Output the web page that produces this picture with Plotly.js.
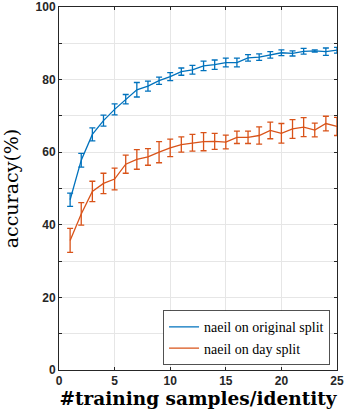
<!DOCTYPE html>
<html>
<head>
<meta charset="utf-8">
<script src="https://cdn.plot.ly/plotly-3.0.1.min.js"></script>
<style>
  html, body { margin: 0; padding: 0; background: #fff; }
  #plot { width: 344px; height: 415px; }
</style>
</head>
<body>
<div id="plot"></div>
<script>
// number of training samples per identity
let samples = [1, 2, 3, 4, 5, 6, 7, 8, 9, 10, 11, 12, 13, 14, 15, 16, 17, 18, 19, 20, 21, 22, 23, 24, 25];

// naeil on original split
let origAcc = [46.9, 57.8, 64.9, 68.7, 71.8, 74.6, 77.2, 78.2, 79.7, 80.8, 82.2, 82.7, 83.8, 84.1, 84.7, 84.7, 86.0, 86.2, 86.8, 87.4, 87.2, 87.8, 87.9, 87.7, 88.1];
let origErr = [1.8, 1.9, 1.8, 1.5, 1.5, 1.3, 2.0, 1.4, 1.0, 1.1, 1.0, 1.2, 1.3, 1.3, 1.2, 1.2, 0.9, 0.9, 0.9, 0.8, 0.7, 0.8, 0.3, 1.0, 0.8];

// naeil on day split
let dayAcc = [35.7, 43.0, 49.2, 51.4, 52.6, 56.7, 58.0, 58.7, 60.0, 61.2, 62.1, 62.6, 62.9, 63.0, 62.8, 64.1, 64.1, 64.6, 66.0, 65.2, 66.4, 66.9, 66.1, 67.9, 67.1];
let dayErr = [3.3, 3.1, 2.8, 2.8, 3.0, 2.5, 2.7, 2.3, 2.9, 2.4, 2.1, 2.3, 2.5, 2.2, 1.9, 1.7, 1.7, 2.4, 2.3, 2.7, 2.6, 2.6, 1.9, 2.0, 2.5];

let blue = "#0072BD";
let orange = "#D95319";
let serif = "'DejaVu Serif', serif";
let legendSerif = "'Liberation Serif', 'Times New Roman', serif";

let traceOrig = {
    x: samples,
    y: origAcc,
    type: "scatter",
    mode: "lines",
    name: "naeil on original split",
    line: { color: blue, width: 1.3 },
    error_y: { type: "data", array: origErr, visible: true, color: blue, thickness: 1.3, width: 3 }
};

let traceDay = {
    x: samples,
    y: dayAcc,
    type: "scatter",
    mode: "lines",
    name: "naeil on day split",
    line: { color: orange, width: 1.3 },
    error_y: { type: "data", array: dayErr, visible: true, color: orange, thickness: 1.3, width: 3 }
};

let tickFont = { family: "'Liberation Sans', Arial, sans-serif", size: 12, color: "#262626", weight: "bold" };

let layout = {
    width: 344,
    height: 415,
    margin: { l: 59, r: 7, t: 7, b: 45 },
    paper_bgcolor: "#fff",
    plot_bgcolor: "#fff",
    showlegend: true,
    legend: {
        x: 0.375, y: 0.015, xanchor: "left", yanchor: "bottom",
        bgcolor: "#fff",
        bordercolor: "#262626",
        borderwidth: 0.8,
        font: { family: legendSerif, size: 14, color: "#000" },
        itemwidth: 30,
        tracegroupgap: 0
    },
    xaxis: {
        range: [0, 25],
        dtick: 5,
        tick0: 0,
        ticks: "inside",
        ticklen: 3,
        tickcolor: "#262626",
        showline: true,
        linecolor: "#262626",
        linewidth: 1,
        mirror: "ticks",
        showgrid: true,
        gridcolor: "#e6e6e6",
        zeroline: false,
        tickfont: tickFont,
        title: {
            text: "#training samples/identity",
            font: { family: serif, size: 18.5, color: "#000", weight: "bold" },
            standoff: 3
        }
    },
    yaxis: {
        range: [0, 100],
        dtick: 20,
        tick0: 0,
        ticks: "inside",
        ticklen: 3,
        tickcolor: "#262626",
        showline: true,
        linecolor: "#262626",
        linewidth: 1,
        mirror: "ticks",
        showgrid: true,
        gridcolor: "#e6e6e6",
        zeroline: false,
        tickfont: tickFont,
        minor: { dtick: 10, ticks: "inside", ticklen: 3, tickcolor: "#262626", showgrid: true, gridcolor: "#e6e6e6" },
        title: {
            text: "accuracy(%)",
            font: { family: serif, size: 19, color: "#000" },
            standoff: 11
        }
    }
};

Plotly.newPlot("plot", [traceOrig, traceDay], layout, { displayModeBar: false, staticPlot: true });
</script>
</body>
</html>
